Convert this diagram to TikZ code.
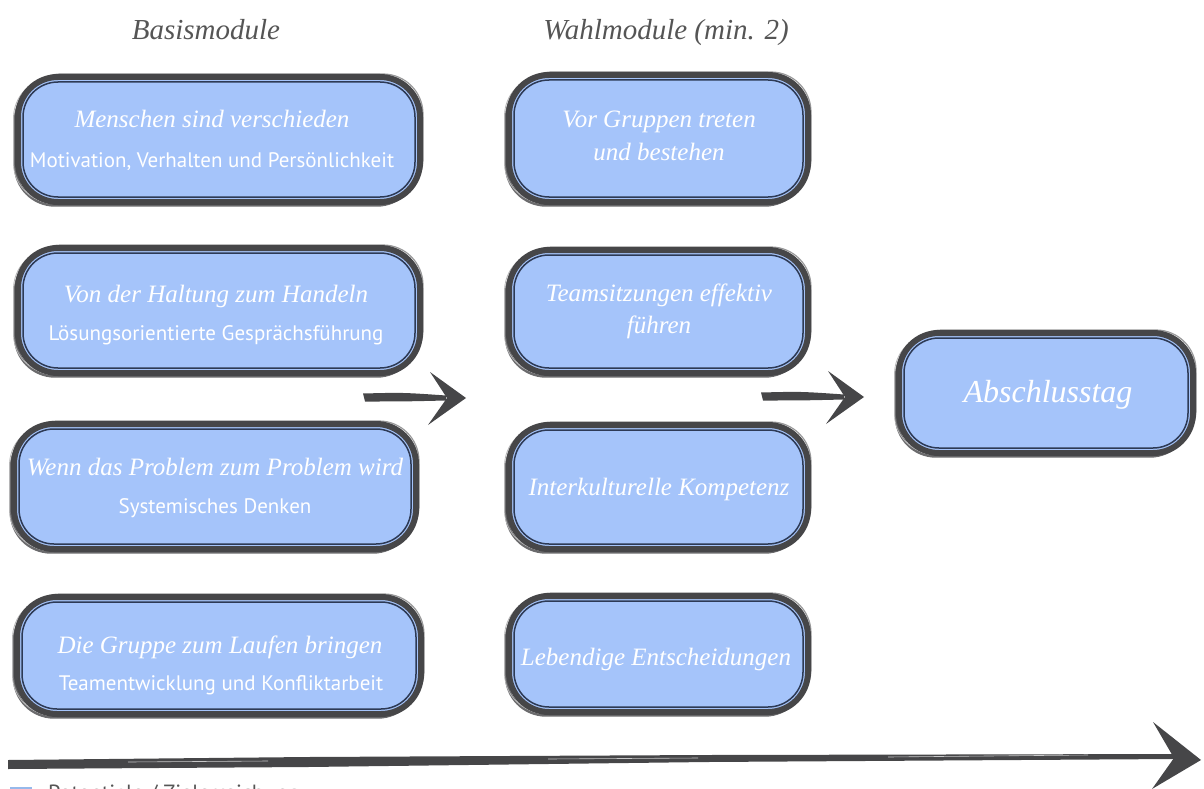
\documentclass[tikz,border=0pt]{standalone}
\usepackage{fontspec}
\setmainfont{Liberation Serif}
\newfontfamily\subsans{PT Sans}
\usetikzlibrary{calc}
\definecolor{boxblue}{RGB}{165,196,250}
\definecolor{brush}{RGB}{70,70,72}
\definecolor{navyline}{RGB}{45,58,85}
\definecolor{headgray}{RGB}{85,85,85}
\definecolor{legendblue}{RGB}{150,185,235}
\newcommand\modulebox[5]{%
  \node[modbox, minimum width=#4pt, minimum height=#5pt] (#1) at (#2,#3) {};
  \draw[innerline] ([shift={(5pt,-5pt)}]#1.north west) rectangle ([shift={(-5pt,5pt)}]#1.south east);
}
\begin{document}
\begin{tikzpicture}[x=1pt,y=-1pt,
  modbox/.style={rectangle, rounded corners=40pt, fill=boxblue, draw=brush, line width=6pt,
    inner sep=0pt, outer sep=0pt,
    preaction={draw=brush!80, line width=2.4pt, transform canvas={shift={(-3pt,-3.5pt)}}},
    preaction={draw=brush!55, line width=1.2pt, transform canvas={shift={(3pt,3pt)}}},
    preaction={draw=brush!40, line width=0.8pt, transform canvas={shift={(-4.5pt,-1pt)}}}},
  innerline/.style={draw=navyline, line width=1.5pt, rounded corners=35pt},
  ttl/.style={text=white, font=\fontsize{25}{28}\selectfont\itshape, anchor=base, inner sep=0pt},
  sub/.style={text=white, font=\subsans\fontsize{21}{24}\selectfont, anchor=base, inner sep=0pt},
  head/.style={text=headgray, font=\fontsize{29}{32}\selectfont\itshape, anchor=base, inner sep=0pt},
  brushfill/.style={fill=brush}]
\useasboundingbox (0,0) rectangle (1204,789);

% headings
\node[head] (h1) at (206,40) {Basismodule};
\node[head] (h2) at (666,40) {Wahlmodule (min. 2)};

% left column
\modulebox{L1}{219}{139.5}{402}{125}
\modulebox{L2}{219}{310.5}{402}{125}
\modulebox{L3}{215}{486.5}{402}{125}
\modulebox{L4}{219}{655.5}{404}{117}
\node[ttl] (L1t) at (212,128) {Menschen sind verschieden};
\node[sub] (L1s) at (212,167) {Motivation, Verhalten und Persönlichkeit};
\node[ttl] (L2t) at (216,302) {Von der Haltung zum Handeln};
\node[sub] (L2s) at (216,340) {Lösungsorientierte Gesprächsführung};
\node[ttl] (L3t) at (215,475) {Wenn das Problem zum Problem wird};
\node[sub] (L3s) at (215,513) {Systemisches Denken};
\node[ttl] (L4t) at (220,653) {Die Gruppe zum Laufen bringen};
\node[sub] (L4s) at (221,690) {Teamentwicklung und Konfliktarbeit};

% middle column
\modulebox{M1}{658.5}{138.5}{299}{127}
\modulebox{M2}{658.5}{311.5}{299}{123}
\modulebox{M3}{658.5}{487}{299}{124}
\modulebox{M4}{658.5}{654}{299}{116}
\node[ttl] (M1a) at (659,128) {Vor Gruppen treten};
\node[ttl] (M1b) at (659,160) {und bestehen};
\node[ttl] (M2a) at (659,301) {Teamsitzungen effektiv};
\node[ttl] (M2b) at (659,333) {führen};
\node[ttl] (M3a) at (659,495) {Interkulturelle Kompetenz};
\node[ttl] (M4a) at (656,665) {Lebendige Entscheidungen};

% final box
\modulebox{A}{1046}{393}{294}{120}
\node[ttl, font=\fontsize{32}{36}\selectfont\itshape] (At) at (1048,402) {Abschlusstag};

% arrow 1
\coordinate (a1s) at (363,397);
\coordinate (a1t) at (466,398);
\fill[brushfill] ($(a1s)+(0,-3.5)$) .. controls ($(a1s)+(40,-4.5)$) .. ($(a1t)+(-20,-2.5)$) -- ($(a1t)+(-20,2.5)$) .. controls ($(a1s)+(40,4.5)$) .. ($(a1s)+(2,4.5)$) -- cycle;
\fill[brushfill] ($(a1t)+(-36,-26)$) -- (a1t) -- ($(a1t)+(-38,27)$) -- ($(a1t)+(-19,0)$) -- cycle;

% arrow 2
\coordinate (a2s) at (761,396);
\coordinate (a2t) at (864,397);
\fill[brushfill] ($(a2s)+(0,-3.5)$) .. controls ($(a2s)+(40,-4.5)$) .. ($(a2t)+(-20,-2.5)$) -- ($(a2t)+(-20,2.5)$) .. controls ($(a2s)+(40,4.5)$) .. ($(a2s)+(2,4.5)$) -- cycle;
\fill[brushfill] ($(a2t)+(-36,-26)$) -- (a2t) -- ($(a2t)+(-38,27)$) -- ($(a2t)+(-19,0)$) -- cycle;

% long bottom arrow
\coordinate (a3s) at (8,763);
\coordinate (a3t) at (1201,760);
\fill[brushfill] ($(a3s)+(0,-3)$) -- ($(a3s)+(300,-6)$) -- ($(a3s)+(700,-8)$) -- ($(a3t)+(-25,-6)$) -- ($(a3t)+(-25,-1)$) -- ($(a3s)+(700,-1)$) -- ($(a3s)+(300,4)$) -- ($(a3s)+(0,6)$) -- cycle;
\draw[white, line width=0.6pt, opacity=0.7] ($(a3s)+(120,-1)$) -- ($(a3s)+(260,-2)$);
\draw[white, line width=0.6pt, opacity=0.7] ($(a3s)+(540,-4)$) -- ($(a3s)+(690,-5)$);
\draw[white, line width=0.6pt, opacity=0.7] ($(a3s)+(880,-6)$) -- ($(a3s)+(1080,-8)$);
\fill[brushfill] ($(a3t)+(-48,-38)$) -- (a3t) -- ($(a3t)+(-49,29)$) -- ($(a3t)+(-27,-2)$) -- cycle;

% legend (cut at the lower edge, as in the reference)
\fill[legendblue] (10,787) rectangle (32,800);
\node[anchor=north west, inner sep=0pt, text=headgray, font=\subsans\fontsize{22}{26}\selectfont] (leg) at (48,785) {Potentiale / Zielerreichung};
\end{tikzpicture}
\end{document}
